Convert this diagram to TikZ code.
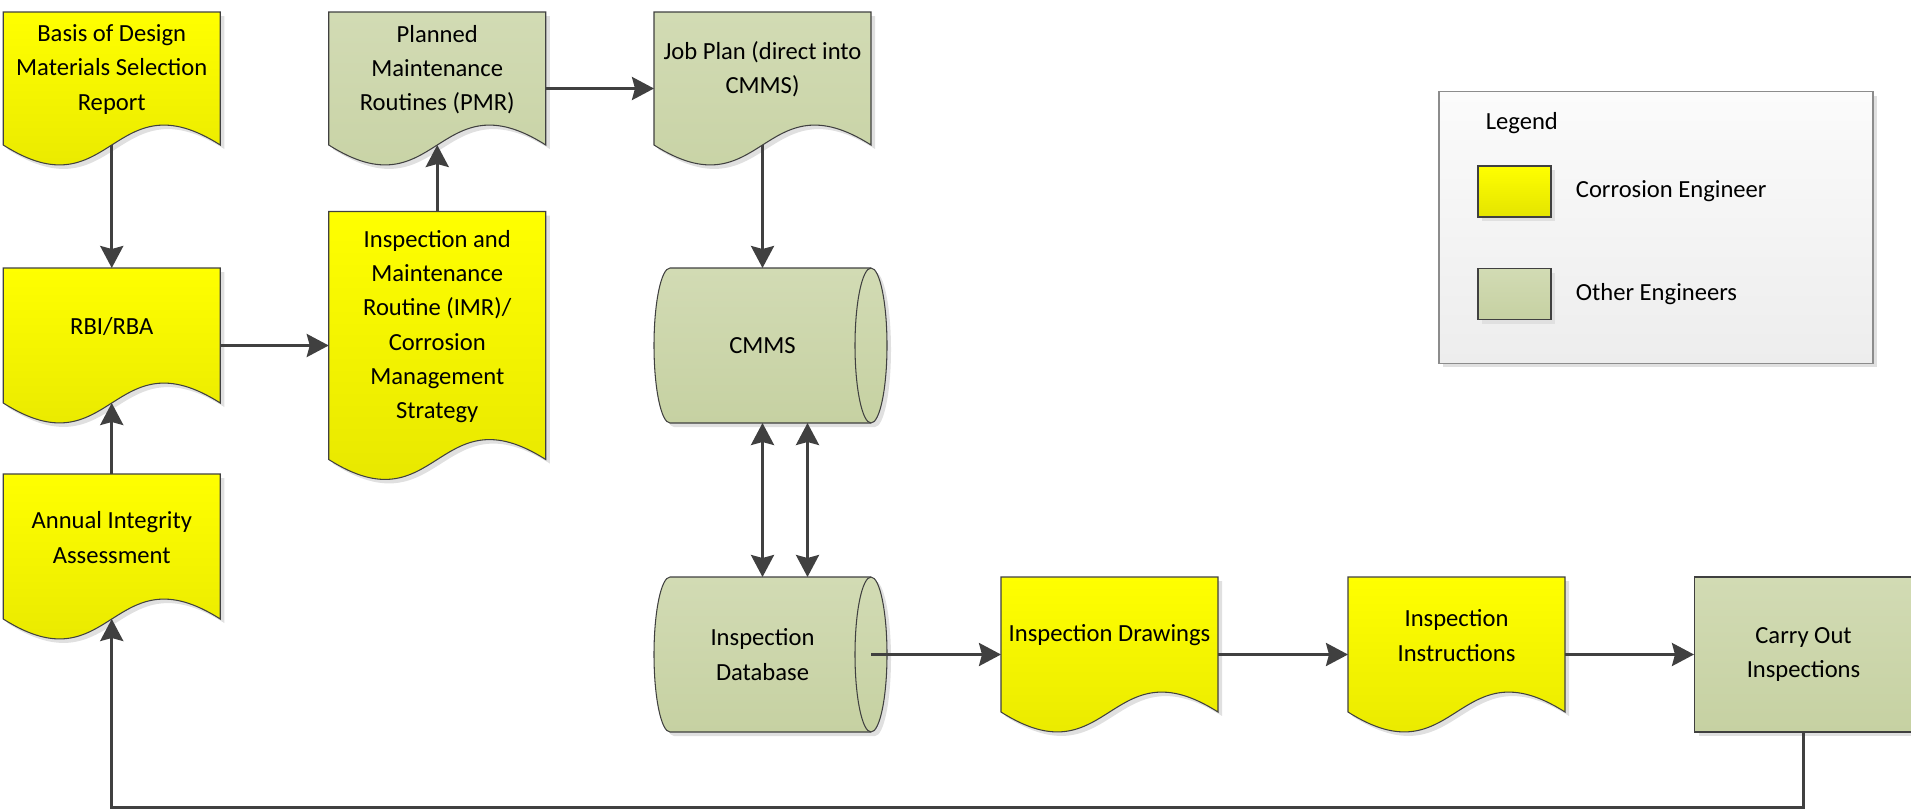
\documentclass[tikz,border=0pt]{standalone}
\usepackage{fontspec}
\setmainfont{Carlito}
\usetikzlibrary{positioning, arrows.meta, shadows, calc}
\definecolor{yeltop}{HTML}{FFFF00}
\definecolor{yelbot}{HTML}{E4E400}
\definecolor{grntop}{HTML}{D2DBB4}
\definecolor{grnbot}{HTML}{C6D1A2}
\definecolor{legtop}{HTML}{FBFBFB}
\definecolor{legbot}{HTML}{EDEDED}
\definecolor{shapeline}{HTML}{404040}
\definecolor{arrowgrey}{HTML}{404040}

% document shape: wavy bottom, corners 0.4cm above the node's south
\newcommand{\docshape}[3]{%
  \path[shd, draw=shapeline, line width=0.6pt, top color=#2top, bottom color=#2bot]
    (#1.north west) -- (#1.north east) -- ([yshift=0.4cm]#1.south east)
    .. controls ([yshift=1.78cm]#1.south) and ([yshift=-0.98cm]#1.south) .. ([yshift=0.4cm]#1.south west) -- cycle;
  \node[txt] (#1-txt) at ([yshift=0.38cm]#1.center) {#3};}
% stored data shape: lying cylinder
\newcommand{\dbshape}[2]{%
  \path[shd, draw=shapeline, line width=0.6pt, top color=grntop, bottom color=grnbot]
    ([xshift=0.32cm]#1.north west) -- (#1.north east)
    arc[start angle=90, end angle=-90, x radius=0.32cm, y radius=1.55cm]
    -- ([xshift=0.32cm]#1.south west)
    arc[start angle=270, end angle=90, x radius=0.32cm, y radius=1.55cm] -- cycle;
  \draw[shapeline, line width=0.6pt] (#1.north east)
    arc[start angle=90, end angle=270, x radius=0.32cm, y radius=1.55cm];
  \node[txt] (#1-txt) at (#1.center) {#2};}

\begin{document}
\begin{tikzpicture}[
  font=\fontsize{14}{19.5}\selectfont,
  shd/.style={drop shadow={shadow xshift=0.08cm, shadow yshift=-0.08cm, fill=black!12, opacity=1}},
  shell/.style={inner sep=0pt, outer sep=0pt, minimum width=4.34cm},
  txt/.style={align=center, inner sep=0pt},
  swatch/.style={shd, draw=shapeline, line width=0.6pt, minimum width=1.46cm, minimum height=1.02cm, inner sep=0pt},
  fl/.style={-{Stealth[length=0.44cm, width=0.46cm, inset=0.06cm]}, draw=arrowgrey, line width=1.7pt},
  flbi/.style={fl, {Stealth[length=0.44cm, width=0.46cm, inset=0.06cm]}-{Stealth[length=0.44cm, width=0.46cm, inset=0.06cm]}},
]
\useasboundingbox (0,0) rectangle (38.22,-16.16);
% shape outlines
\node[shell, minimum height=3.06cm] (basis) at (2.235,-1.77) {};
\node[shell, minimum height=3.06cm] (pmr) at (8.745,-1.77) {};
\node[shell, minimum height=3.06cm] (jobplan) at (15.25,-1.77) {};
\node[shell, minimum height=3.10cm] (rbi) at (2.235,-6.91) {};
\node[shell, minimum height=5.36cm] (imr) at (8.745,-6.91) {};
\node[shell, minimum height=3.30cm] (annual) at (2.235,-11.13) {};
\node[shell, minimum height=3.10cm] (cmms) at (15.25,-6.91) {};
\node[shell, minimum height=3.10cm] (insdb) at (15.25,-13.09) {};
\node[shell, minimum height=3.10cm] (drawings) at (22.19,-13.09) {};
\node[shell, minimum height=3.10cm] (instr) at (29.13,-13.09) {};
% corrosion engineer documents
\docshape{basis}{yel}{Basis of Design\\Materials Selection\\Report}
\docshape{rbi}{yel}{RBI/RBA}
\docshape{annual}{yel}{Annual Integrity\\Assessment}
\docshape{imr}{yel}{Inspection and\\Maintenance\\Routine (IMR)/\\Corrosion\\Management\\Strategy}
\docshape{drawings}{yel}{Inspection Drawings}
\docshape{instr}{yel}{Inspection\\Instructions}
% other engineers
\docshape{pmr}{grn}{Planned\\Maintenance\\Routines (PMR)}
\docshape{jobplan}{grn}{Job Plan (direct into\\CMMS)}
\dbshape{cmms}{CMMS}
\dbshape{insdb}{Inspection\\Database}
\node[shd, draw=shapeline, line width=0.6pt, top color=grntop, bottom color=grnbot, txt,
      minimum width=4.36cm, minimum height=3.10cm] (carry) at (36.07,-13.09) {Carry Out\\Inspections};
% legend
\node[shd, draw=black!45, line width=0.6pt, top color=legtop, bottom color=legbot,
      minimum width=8.68cm, minimum height=5.43cm] (legend) at (33.12,-4.546) {};
\node[anchor=west, inner sep=0pt] (legend-title) at ([xshift=0.94cm, yshift=-0.65cm]legend.north west) {Legend};
\node[swatch, top color=yeltop, bottom color=yelbot] (sw-corr) at (30.29,-3.83) {};
\node[swatch, top color=grntop, bottom color=grnbot] (sw-other) at (30.29,-5.88) {};
\node[inner sep=0pt, right=0.48cm of sw-corr] (corr) {Corrosion Engineer};
\node[inner sep=0pt, right=0.48cm of sw-other] (other) {Other Engineers};
% flow
\draw[fl] ([yshift=0.4cm]basis.south) -- (rbi.north);
\draw[fl] (annual.north) -- ([yshift=0.4cm]rbi.south);
\draw[fl] (rbi.east) -- (imr.west);
\draw[fl] (imr.north) -- ([yshift=0.4cm]pmr.south);
\draw[fl] (pmr.east) -- (jobplan.west);
\draw[fl] ([yshift=0.4cm]jobplan.south) -- (cmms.north);
\draw[flbi] (cmms.south) -- (insdb.north);
\draw[flbi] ([xshift=0.9cm]cmms.south) -- ([xshift=0.9cm]insdb.north);
\draw[fl] (insdb.east) -- (drawings.west);
\draw[fl] (drawings.east) -- (instr.west);
\draw[fl] (instr.east) -- (carry.west);
\draw[fl] (carry.south) -- ++(0,-1.49) -| ([yshift=0.4cm]annual.south);
\end{tikzpicture}
\end{document}
